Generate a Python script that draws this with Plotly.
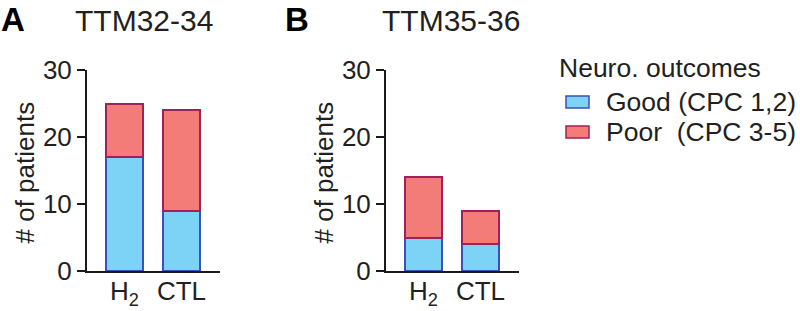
import plotly.graph_objects as go

# ---- data ----
groups = ["H<sub>2</sub>", "CTL"]
panelA_title = "TTM32-34"
panelB_title = "TTM35-36"
good_A = [17, 9]
poor_A = [8, 15]
good_B = [5, 4]
poor_B = [9, 5]
series_names = ["Good (CPC 1,2)", "Poor  (CPC 3-5)"]
legend_title = "Neuro. outcomes"
y_title = "# of patients"
y_ticks = [0, 10, 20, 30]

W, H = 800, 311
FONT = "Liberation Sans, Arial, sans-serif"
TXT = "#231f20"
BLUE_FILL, BLUE_LINE = "#7dd3f6", "#3b4fc0"
RED_FILL, RED_LINE = "#f37c78", "#a0205a"

def px(x):
    return x / W

def py(y):
    return 1 - y / H

xpos = list(range(len(groups)))

fig = go.Figure()
for good, poor, xa, ya in [(good_A, poor_A, "x", "y"), (good_B, poor_B, "x2", "y2")]:
    fig.add_trace(go.Bar(x=xpos, y=good, name=series_names[0], xaxis=xa, yaxis=ya,
                         width=0.65, marker=dict(color=BLUE_FILL, line=dict(color=BLUE_LINE, width=2)),
                         showlegend=False))
    fig.add_trace(go.Bar(x=xpos, y=poor, name=series_names[1], xaxis=xa, yaxis=ya,
                         width=0.65, marker=dict(color=RED_FILL, line=dict(color=RED_LINE, width=2)),
                         showlegend=False))

ydom = [py(271), py(70)]
xcommon = dict(tickvals=xpos, ticktext=groups, range=[-0.658, 1.675], showline=True,
               linecolor="#1a1a1a", linewidth=2, ticks="", showgrid=False, zeroline=False,
               tickfont=dict(size=26, color=TXT, family=FONT), fixedrange=True, automargin=False,
               ticklabelstandoff=-4)
ycommon = dict(range=[0, 30], tickvals=y_ticks, showline=True, linecolor="#1a1a1a", linewidth=2,
               ticks="outside", ticklen=8, tickwidth=2, tickcolor="#1a1a1a", showgrid=False,
               zeroline=False, tickfont=dict(size=26, color=TXT, family=FONT), automargin=False,
               fixedrange=True)

fig.update_layout(
    width=W, height=H, margin=dict(l=0, r=0, t=0, b=0),
    paper_bgcolor="white", plot_bgcolor="white", barmode="stack", showlegend=False,
    xaxis=dict(domain=[px(87), px(220)], anchor="y", **xcommon),
    yaxis=dict(domain=ydom, anchor="x", **ycommon),
    xaxis2=dict(domain=[px(386), px(519)], anchor="y2", **xcommon),
    yaxis2=dict(domain=ydom, anchor="x2", **ycommon),
)

ann = []
ann.append(dict(text="<b>A</b>", x=px(-1), y=py(19), xanchor="left", yanchor="middle",
                font=dict(size=33, color="#000", family=FONT)))
ann.append(dict(text="<b>B</b>", x=px(283), y=py(19), xanchor="left", yanchor="middle",
                font=dict(size=33, color="#000", family=FONT)))
ann.append(dict(text=panelA_title, x=px(143.5), y=py(21), xanchor="center", yanchor="middle",
                font=dict(size=30, color=TXT, family=FONT)))
ann.append(dict(text=panelB_title, x=px(451), y=py(21), xanchor="center", yanchor="middle",
                font=dict(size=30, color=TXT, family=FONT)))
for xc in (24, 323):
    ann.append(dict(text=y_title, x=px(xc), y=py(172.5), xanchor="center", yanchor="middle",
                    textangle=-90, font=dict(size=26, color=TXT, family=FONT)))
ann.append(dict(text=legend_title, x=px(557), y=py(68), xanchor="left", yanchor="middle",
                font=dict(size=26.5, color=TXT, family=FONT)))
for i, (name, fc, lc) in enumerate(zip(series_names, [BLUE_FILL, RED_FILL], [BLUE_LINE, RED_LINE])):
    yc = 102 + 30 * i
    fig.add_shape(type="rect", xref="paper", yref="paper", x0=px(566), x1=px(589),
                  y0=py(yc + 6), y1=py(yc - 6), fillcolor=fc, line=dict(color=lc, width=1.5))
    ann.append(dict(text=name, x=px(604), y=py(yc), xanchor="left", yanchor="middle",
                    font=dict(size=26.5, color=TXT, family=FONT)))
for a in ann:
    a.update(xref="paper", yref="paper", showarrow=False)
fig.update_layout(annotations=ann)

fig.write_html("out.html", config={"displayModeBar": False},
               post_script="document.body.style.margin='0';document.body.style.overflow='hidden';")
